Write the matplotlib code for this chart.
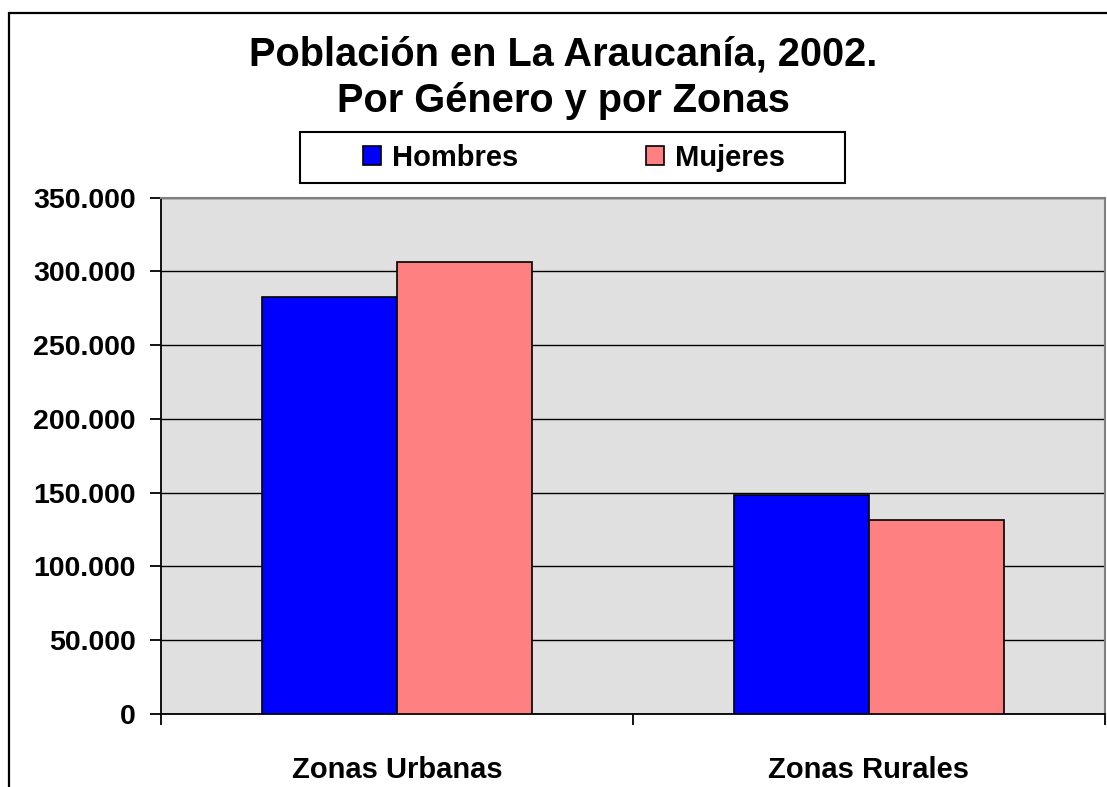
import matplotlib
matplotlib.use("Agg")
import matplotlib.pyplot as plt
from matplotlib.patches import Rectangle
from matplotlib.ticker import FuncFormatter
import numpy as np

plt.rcParams['font.family'] = ['Liberation Sans', 'DejaVu Sans']
plt.rcParams['font.weight'] = 'bold'

categories = ["Zonas Urbanas", "Zonas Rurales"]
series_names = ["Hombres", "Mujeres"]
hombres = [282500, 148200]
mujeres = [306500, 131500]
colors = ["#0000FF", "#FF8080"]
yticks = [0, 50000, 100000, 150000, 200000, 250000, 300000, 350000]

W, H = 1107, 787
fig = plt.figure(figsize=(W / 100, H / 100), dpi=100)

# plot area in pixels: left 161, right 1105, top 197.5, bottom 714
ax = fig.add_axes([161 / W, 1 - 714 / H, 944 / W, 516.5 / H])
ax.set_facecolor("#E0E0E0")

x = np.arange(len(categories))
bw = 0.287
ax.bar(x - bw / 2, hombres, bw, color=colors[0], edgecolor="black", linewidth=1.2,
       label=series_names[0], zorder=3)
ax.bar(x + bw / 2, mujeres, bw, color=colors[1], edgecolor="black", linewidth=1.2,
       label=series_names[1], zorder=3)

ax.set_xlim(-0.5, 1.5)
ax.set_ylim(0, 350000)
ax.set_yticks(yticks)
ax.yaxis.set_major_formatter(FuncFormatter(lambda v, p: f"{int(v):,}".replace(",", ".")))
ax.yaxis.grid(True, color="black", linewidth=1.0, zorder=1)
ax.set_axisbelow(True)

ax.set_xticks(x)
ax.set_xticklabels(categories)
ax.set_xticks([-0.5, 0.5, 1.5], minor=True)
ax.tick_params(axis="x", which="major", length=0, pad=30, labelsize=21)
ax.tick_params(axis="x", which="minor", length=8, width=1.3, direction="out")
ax.tick_params(axis="y", length=8, width=1.3, direction="out", pad=10, labelsize=20.5)

for s in ["left", "bottom"]:
    ax.spines[s].set_color("black")
    ax.spines[s].set_linewidth(1.3)
for s in ["top", "right"]:
    ax.spines[s].set_color("#808080")
    ax.spines[s].set_linewidth(1.5)

# title
fig.text(563 / W, 1 - 66 / H, "Población en La Araucanía, 2002.", ha="center",
         va="baseline", fontsize=28.6, fontweight="bold")
fig.text(563 / W, 1 - 112 / H, "Por Género y por Zonas", ha="center",
         va="baseline", fontsize=28.6, fontweight="bold")

# legend (entries without frame, box drawn separately)
leg = fig.legend(loc="center", ncol=2, fontsize=21,
                 bbox_to_anchor=(574 / W, 1 - 157.5 / H),
                 handlelength=0.63, handleheight=0.63, handletextpad=0.38,
                 columnspacing=4.35, borderpad=0.35, borderaxespad=0,
                 frameon=False)
fig.patches.append(Rectangle((300 / W, 1 - 182.5 / H), 545 / W, 50 / H,
                             transform=fig.transFigure, fill=True, facecolor="white",
                             edgecolor="black", linewidth=1.5, zorder=0))

# outer chart border (cut by right/bottom image edges)
fig.patches.append(Rectangle((8.5 / W, -0.2), 1.5, 1.2 - 12.7 / H, transform=fig.transFigure,
                             fill=False, edgecolor="black", linewidth=1.6))

fig.savefig("out.png", dpi=100)
